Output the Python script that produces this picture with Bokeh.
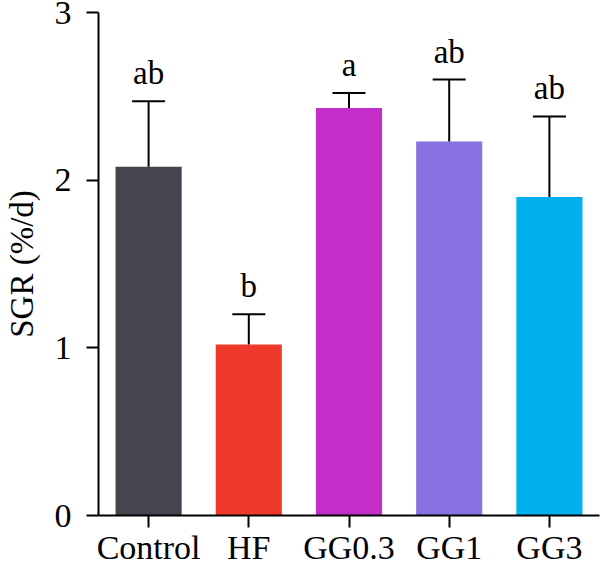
from bokeh.plotting import figure
from bokeh.models import ColumnDataSource, Range1d, FactorRange, Whisker, TeeHead
from bokeh.core.properties import value
from bokeh.embed import file_html
from bokeh.resources import INLINE

# Specific growth rate per feeding group
groups = ["Control", "HF", "GG0.3", "GG1", "GG3"]
sgr_mean = [2.08, 1.02, 2.43, 2.23, 1.90]
sgr_sd = [0.39, 0.18, 0.09, 0.37, 0.48]
letters = ["ab", "b", "a", "ab", "ab"]
bar_colors = ["#46454f", "#ef3a2b", "#c42ec8", "#8870e0", "#00b0ef"]

FONT = "Liberation Serif"

src = ColumnDataSource(dict(
    group=groups,
    mean=sgr_mean,
    upper=[m + s for m, s in zip(sgr_mean, sgr_sd)],
    letter=letters,
    color=bar_colors,
))

p = figure(
    width=600, height=568,
    x_range=FactorRange(*groups, range_padding=0),
    y_range=Range1d(0, 3),
    output_backend="svg", toolbar_location=None,
    min_border_left=94, min_border_right=1,
    min_border_top=12, min_border_bottom=52,
)
p.outline_line_color = None
p.grid.grid_line_color = None
p.background_fill_color = "white"
p.border_fill_color = "white"

p.vbar(x="group", top="mean", width=0.66, color="color", line_color=None, source=src)

# Upper-only error bars
err = Whisker(base="group", lower="mean", upper="upper", source=src,
              line_color="black", line_width=2,
              upper_head=TeeHead(size=33, line_color="black", line_width=2),
              lower_head=None, level="glyph")
p.add_layout(err)

# Significance letters above the error bars
p.text(x="group", y="upper", text="letter", source=src,
       text_font=value(FONT), text_font_size="33px", text_color="black",
       text_align="center", text_baseline="bottom", y_offset=-10)

for ax in (p.xaxis[0], p.yaxis[0]):
    ax.axis_line_width = 2
    ax.axis_line_color = "black"
    ax.major_tick_line_width = 2
    ax.major_tick_line_color = "black"
    ax.major_tick_out = 12
    ax.major_tick_in = 0
    ax.minor_tick_line_color = None
    ax.major_label_text_font = FONT
    ax.major_label_text_font_size = "34px"
    ax.major_label_text_color = "black"

p.yaxis.ticker = [0, 1, 2, 3]
p.yaxis.major_label_standoff = 15
p.yaxis.axis_label = "SGR (%/d)"
p.yaxis.axis_label_text_font = FONT
p.yaxis.axis_label_text_font_size = "33px"
p.yaxis.axis_label_text_font_style = "normal"
p.yaxis.axis_label_text_color = "black"
p.yaxis.axis_label_standoff = 12

# Small standoff keeps the group names inside the bottom border
p.xaxis.major_label_standoff = 1

open("out.html", "w").write(file_html(p, INLINE))
